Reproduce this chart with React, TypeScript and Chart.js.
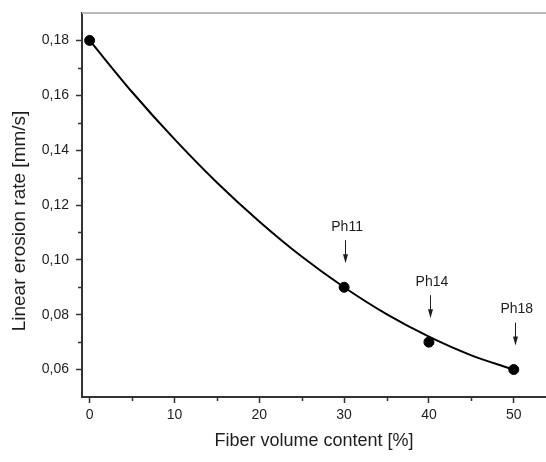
import React, { useEffect, useRef } from 'react';
import { Chart, registerables } from 'chart.js';

Chart.register(...registerables);

// Measured samples
const sampleX = [0, 30, 40, 50];
const sampleY = [0.18, 0.09, 0.07, 0.06];
const sampleLabels = ['', 'Ph11', 'Ph14', 'Ph18'];

// Fitted curve
const fitX = [0, 5, 10, 15, 20, 25, 30, 35, 40, 45, 50];
const fitY = [0.18, 0.1612, 0.144, 0.1282, 0.114, 0.1012, 0.09, 0.0802, 0.072, 0.0652, 0.06];

// Axis ticks
const xTicks = [0, 10, 20, 30, 40, 50];
const xMinorTicks = [5, 15, 25, 35, 45];
const yTicks = [0.06, 0.08, 0.1, 0.12, 0.14, 0.16, 0.18];
const yMinorTicks = [0.07, 0.09, 0.11, 0.13, 0.15, 0.17];

const xTitle = 'Fiber volume content [%]';
const yTitle = 'Linear erosion rate [mm/s]';

const FONT = "'Liberation Sans', Arial, sans-serif";
const INK = '#1e1e1e';
const AXIS = '#333333';

const decorPlugin = {
  id: 'decor',
  afterDraw(chart: any) {
    const { ctx, chartArea, scales } = chart;
    const x = scales.x;
    const y = scales.y;
    ctx.save();
    // top frame line
    ctx.strokeStyle = '#b8b8b8';
    ctx.lineWidth = 2;
    ctx.beginPath();
    ctx.moveTo(chartArea.left, chartArea.top);
    ctx.lineTo(chartArea.right, chartArea.top);
    ctx.stroke();

    // minor ticks
    ctx.strokeStyle = AXIS;
    ctx.lineWidth = 1.5;
    ctx.beginPath();
    for (const v of xMinorTicks) {
      const px = Math.round(x.getPixelForValue(v)) + 0.5;
      ctx.moveTo(px, chartArea.bottom);
      ctx.lineTo(px, chartArea.bottom + 4);
    }
    for (const v of yMinorTicks) {
      const py = Math.round(y.getPixelForValue(v)) + 0.5;
      ctx.moveTo(chartArea.left, py);
      ctx.lineTo(chartArea.left - 4, py);
    }
    ctx.stroke();

    // annotations
    ctx.fillStyle = INK;
    ctx.strokeStyle = INK;
    ctx.lineWidth = 1;
    ctx.font = `14px ${FONT}`;
    ctx.textAlign = 'center';
    ctx.textBaseline = 'middle';
    sampleLabels.forEach((label, i) => {
      if (!label) return;
      const px = x.getPixelForValue(sampleX[i]);
      const py = y.getPixelForValue(sampleY[i]);
      ctx.fillText(label, px + 3, py - 60);
      const ax = Math.round(px + 1) + 0.5;
      const top = py - 47;
      const tip = py - 24;
      ctx.beginPath();
      ctx.moveTo(ax, top);
      ctx.lineTo(ax, tip - 6);
      ctx.stroke();
      ctx.beginPath();
      ctx.moveTo(ax - 2.5, tip - 9);
      ctx.lineTo(ax + 2.5, tip - 9);
      ctx.lineTo(ax, tip);
      ctx.closePath();
      ctx.fill();
    });

    // y axis title
    ctx.save();
    ctx.translate(20, 221);
    ctx.rotate(-Math.PI / 2);
    ctx.font = `19px ${FONT}`;
    ctx.fillStyle = INK;
    ctx.textAlign = 'center';
    ctx.textBaseline = 'middle';
    ctx.fillText(yTitle, 0, 0);
    ctx.restore();

    ctx.restore();
  },
};

export default function App() {
  const canvasRef = useRef<HTMLCanvasElement | null>(null);

  useEffect(() => {
    const canvas = canvasRef.current;
    if (!canvas) return;
    const chart = new Chart(canvas, {
      type: 'scatter',
      data: {
        datasets: [
          {
            label: 'samples',
            data: sampleX.map((v, i) => ({ x: v, y: sampleY[i] })),
            backgroundColor: '#000',
            borderColor: '#000',
            pointRadius: 5,
            pointHoverRadius: 5,
            showLine: false,
          },
          {
            label: 'fit',
            data: fitX.map((v, i) => ({ x: v, y: fitY[i] })),
            borderColor: '#000',
            borderWidth: 2,
            pointRadius: 0,
            showLine: true,
            tension: 0.4,
            cubicInterpolationMode: 'monotone',
            fill: false,
          } as any,
        ],
      },
      options: {
        responsive: false,
        animation: false,
        events: [],
        layout: { autoPadding: false, padding: { top: 13, left: 0, right: 0, bottom: 0 } },
        plugins: {
          legend: { display: false },
          tooltip: { enabled: false },
        },
        scales: {
          x: {
            type: 'linear',
            min: -0.9,
            max: 53.8,
            afterBuildTicks: (scale: any) => {
              scale.ticks = xTicks.map((v) => ({ value: v }));
            },
            afterFit: (scale: any) => {
              scale.height = 65;
              scale.paddingLeft = 0;
              scale.paddingRight = 0;
            },
            grid: {
              display: true,
              drawOnChartArea: false,
              drawTicks: true,
              tickLength: 6,
              tickWidth: 1.5,
              tickColor: AXIS,
            },
            border: { display: true, color: AXIS, width: 2 },
            ticks: {
              padding: 4,
              color: INK,
              font: { family: FONT, size: 14 },
              callback: (v: any) => String(v),
            },
            title: {
              display: true,
              text: xTitle,
              color: INK,
              font: { family: FONT, size: 18 },
              padding: { top: 0, bottom: 10 },
            },
          },
          y: {
            type: 'linear',
            min: 0.05,
            max: 0.19,
            afterBuildTicks: (scale: any) => {
              scale.ticks = yTicks.map((v) => ({ value: v }));
            },
            afterFit: (scale: any) => {
              scale.width = 82;
              scale.paddingTop = 0;
              scale.paddingBottom = 0;
            },
            grid: {
              display: true,
              drawOnChartArea: false,
              drawTicks: true,
              tickLength: 6,
              tickWidth: 1.5,
              tickColor: AXIS,
            },
            border: { display: true, color: AXIS, width: 2 },
            ticks: {
              padding: 7,
              color: INK,
              font: { family: FONT, size: 14 },
              callback: (v: any) => Number(v).toFixed(2).replace('.', ','),
            },
            title: { display: false },
          },
        },
      },
      plugins: [decorPlugin],
    });
    return () => chart.destroy();
  }, []);

  return (
    <div style={{ position: 'fixed', left: 0, top: 0, width: 546, height: 462, background: '#fff' }}>
      <canvas ref={canvasRef} width={546} height={462} style={{ display: 'block' }} />
    </div>
  );
}
